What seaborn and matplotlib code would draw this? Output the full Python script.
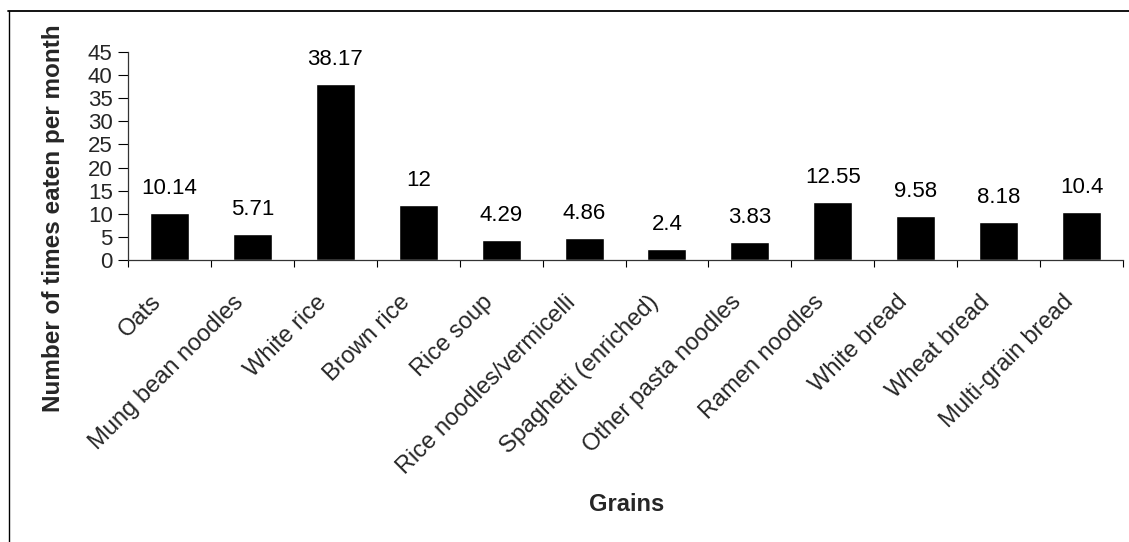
from matplotlib import pyplot as plt
from matplotlib.lines import Line2D
import matplotlib.transforms as mtransforms
import pandas as pd
import seaborn as sns

grains = ['Oats', 'Mung bean noodles', 'White rice', 'Brown rice', 'Rice soup',
          'Rice noodles/vermicelli', 'Spaghetti (enriched)', 'Other pasta noodles',
          'Ramen noodles', 'White bread', 'Wheat bread', 'Multi-grain bread']
times_per_month = [10.14, 5.71, 38.17, 12, 4.29, 4.86, 2.4, 3.83, 12.55, 9.58, 8.18, 10.4]
y_ticks = [0, 5, 10, 15, 20, 25, 30, 35, 40, 45]

df = pd.DataFrame({'grain': grains, 'times': times_per_month})

sns.set_style('white')
plt.rcParams['font.family'] = ['Liberation Sans', 'DejaVu Sans']

fig = plt.figure(figsize=(11.29, 5.42), dpi=100)
ax = fig.add_axes([128 / 1129, 1 - 260 / 542, 995 / 1129, 208 / 542])

sns.barplot(data=df, x='grain', y='times', color='black', width=0.47,
            saturation=1, ax=ax)

# value labels above the bars
for i, v in enumerate(times_per_month):
    ax.annotate(f'{v:g}', xy=(i, v), xytext=(0, 10), textcoords='offset points',
                ha='center', va='bottom', fontsize=16, color='black')

ax.set_xlim(-0.5, len(grains) - 0.5)
ax.set_ylim(0, 45)
ax.set_yticks(y_ticks)
ax.tick_params(axis='y', length=7, width=0.8, pad=4, labelsize=16, left=True,
               color='black', direction='out')

# category ticks sit between bars, like excel
ax.set_xticks([i + 0.5 for i in range(-1, len(grains))], minor=True)
ax.tick_params(axis='x', which='minor', length=5, width=0.8, bottom=True,
               color='black', direction='out')
ax.tick_params(axis='x', which='major', length=0, pad=28, labelsize=17)
offset = mtransforms.ScaledTranslation(-12 / 100, 0, fig.dpi_scale_trans)
for lab in ax.get_xticklabels():
    lab.set_rotation(45)
    lab.set_ha('right')
    lab.set_va('center')
    lab.set_rotation_mode('anchor')
    lab.set_transform(lab.get_transform() + offset)

for side in ['top', 'right']:
    ax.spines[side].set_visible(False)
for side in ['left', 'bottom']:
    ax.spines[side].set_color('#333333')
    ax.spines[side].set_linewidth(0.9)

ax.set_xlabel('Grains', fontsize=17, fontweight='bold')
ax.set_ylabel('Number of times eaten per month', fontsize=17.5, fontweight='bold')
ax.xaxis.set_label_coords(0.5015, -1.12)
ax.yaxis.set_label_coords(-0.0633, 0.202)

# frame lines of the original figure (top and left)
fig.add_artist(Line2D([8 / 1129, 1], [1 - 11 / 542, 1 - 11 / 542],
                      transform=fig.transFigure, color='black', lw=1.3))
fig.add_artist(Line2D([9 / 1129, 9 / 1129], [0, 1 - 11 / 542],
                      transform=fig.transFigure, color='black', lw=1.0))

fig.savefig('out.png', dpi=100)
